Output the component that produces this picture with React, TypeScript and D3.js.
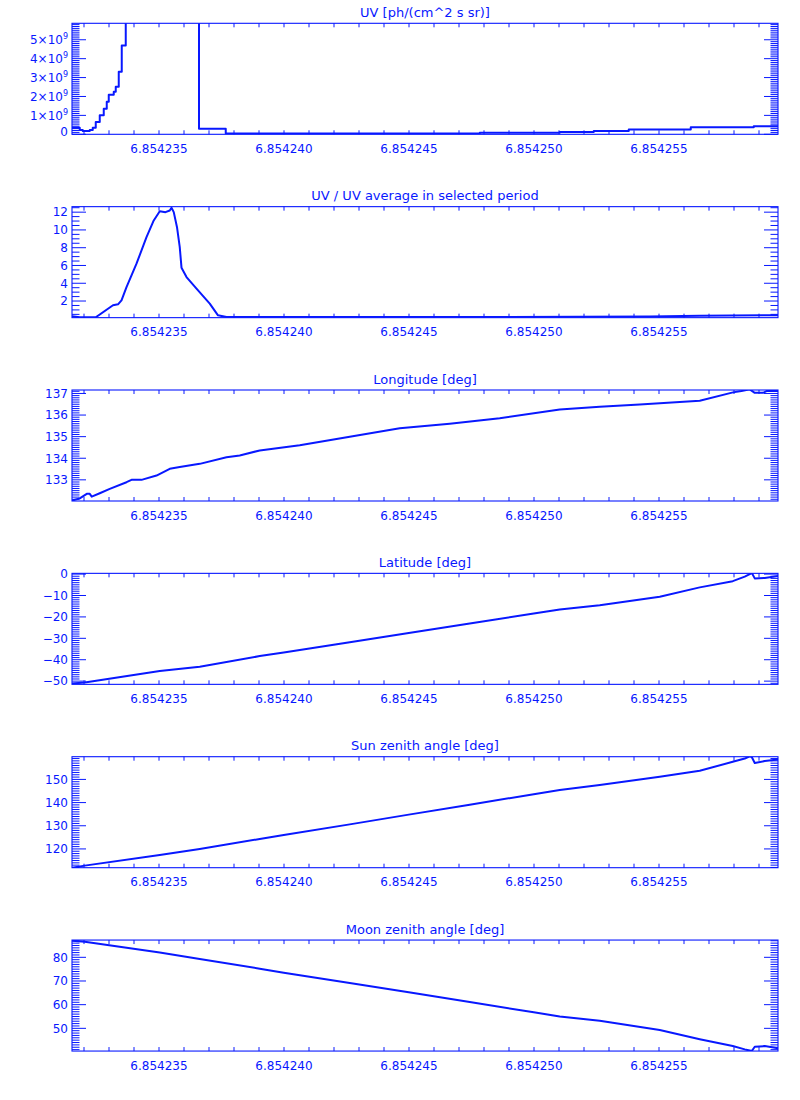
import * as d3 from "d3";

// IDL-style stack of six time series panels
const COLOR = "#0818ff";
const X0 = 72, X1 = 778;
const TOP0 = 23.3, STEP = 183.35, H = 111;
const FONT = "DejaVu Sans, sans-serif";

const xDomain = [6.85423152, 6.85425976];

// UV [ph/(cm^2 s sr)] (histogram style)
const uvTime = [6.85423152, 6.85423183, 6.85423195, 6.85423223, 6.85423235, 6.85423247, 6.85423263, 6.85423279, 6.85423291, 6.85423299, 6.85423319, 6.85423327, 6.85423339, 6.85423351, 6.85423367, 6.8542366, 6.85423767, 6.85424783, 6.85425103, 6.85425239, 6.85425379, 6.85425627, 6.85425879, 6.85425976];
const uvValue = [0.34e9, 0.23e9, 0.18e9, 0.23e9, 0.34e9, 0.65e9, 1.01e9, 1.35e9, 1.72e9, 2.09e9, 2.25e9, 2.52e9, 3.31e9, 4.7e9, 9.0e9, 0.3e9, 0.037e9, 0.08e9, 0.12e9, 0.18e9, 0.25e9, 0.37e9, 0.43e9, 0.43e9];

// UV / UV average in selected period
const ratioTime = [6.85423152, 6.85423183, 6.85423247, 6.85423316, 6.85423336, 6.8542335, 6.8542337, 6.8542341, 6.8542345, 6.85423479, 6.85423503, 6.85423526, 6.85423543, 6.8542355, 6.85423559, 6.85423572, 6.85423583, 6.8542359, 6.8542361, 6.8542365, 6.85423703, 6.85423736, 6.8542377, 6.85424903, 6.85425463, 6.85425663, 6.85425976];
const ratioValue = [0.28, 0.17, 0.17, 1.52, 1.63, 2.08, 3.57, 6.2, 9.19, 11.07, 12.11, 12.0, 12.19, 12.49, 12.0, 10.31, 8.07, 5.75, 4.7, 3.39, 1.71, 0.39, 0.2, 0.2, 0.25, 0.35, 0.4];

// Longitude [deg]
const lonTime = [6.85423152, 6.85423183, 6.85423211, 6.85423223, 6.85423231, 6.85423263, 6.85423303, 6.8542337, 6.8542339, 6.8542343, 6.8542349, 6.85423543, 6.85423583, 6.85423663, 6.8542377, 6.85423823, 6.85423903, 6.85424063, 6.85424263, 6.85424463, 6.85424663, 6.85424863, 6.85425103, 6.85425263, 6.85425423, 6.85425663, 6.85425796, 6.8542583, 6.85425863, 6.85425883, 6.85425916, 6.8542593, 6.85425976];
const lonValue = [132.04, 132.14, 132.35, 132.35, 132.22, 132.38, 132.58, 132.89, 133.0, 133.0, 133.2, 133.51, 133.59, 133.74, 134.05, 134.13, 134.36, 134.6, 135.0, 135.39, 135.6, 135.85, 136.26, 136.38, 136.49, 136.66, 137.05, 137.11, 137.19, 137.03, 137.03, 137.11, 137.11];

// shared sampling for latitude / sun / moon
const geoTime = [6.85423152, 6.85423203, 6.85423503, 6.85423663, 6.85423903, 6.85423999, 6.85424263, 6.85424499, 6.85424743, 6.85424999, 6.85425103, 6.85425263, 6.85425503, 6.85425663, 6.85425795, 6.85425843, 6.85425863, 6.85425871, 6.85425883, 6.85425923, 6.85425976];
const latValue = [-51.1, -50.6, -45.3, -43.3, -38.3, -36.6, -31.8, -27.5, -23.1, -18.4, -16.5, -14.5, -10.6, -6.2, -3.3, -1.2, 0.0, 0.6, -2.0, -1.8, -0.9];
const sunValue = [111.9, 112.8, 117.4, 120.0, 124.3, 126.0, 130.6, 134.8, 139.1, 143.6, 145.4, 147.6, 151.1, 153.7, 157.6, 159.0, 160.0, 159.7, 157.1, 157.9, 158.6];
const moonValue = [87.0, 86.6, 82.0, 79.3, 75.2, 73.5, 69.2, 65.2, 61.1, 56.8, 55.0, 53.2, 49.3, 45.4, 42.5, 41.1, 40.6, 40.4, 42.2, 42.5, 41.6];

const titles = ["UV [ph/(cm^2 s sr)]", "UV / UV average in selected period", "Longitude [deg]", "Latitude [deg]", "Sun zenith angle [deg]", "Moon zenith angle [deg]"];

type PanelProps = {
  index: number;
  title: string;
  times: number[];
  values: number[];
  yDomain: number[];
  major: number;
  minor: number;
  sci?: boolean;
  step?: boolean;
};

const Panel = ({ index, title, times, values, yDomain, major, minor, sci, step }: PanelProps) => {
  const top = TOP0 + index * STEP;
  const bottom = top + H;
  const x = d3.scaleLinear().domain(xDomain).range([X0, X1]);
  const y = d3.scaleLinear().domain(yDomain).range([bottom, top]);

  const line = d3.line<number>()
    .x((d, i) => x(times[i]))
    .y((d) => y(d))
    .curve(step ? d3.curveStepAfter : d3.curveLinear);

  // x ticks every 1e-6, labelled every 5e-6
  const k0 = Math.ceil(xDomain[0] * 1e6), k1 = Math.floor(xDomain[1] * 1e6);
  const xTicks = d3.range(k0, k1 + 1).map(k => ({ v: k / 1e6, major: k % 5 === 0 }));

  const n = Math.round(major / minor);
  const i0 = Math.ceil(yDomain[0] / minor - 1e-9), i1 = Math.floor(yDomain[1] / minor + 1e-9);
  const yTicks = d3.range(i0, i1 + 1).map(i => ({ v: i * minor, major: i % n === 0 }));

  const fmtX = d3.format(".6f");
  const clipId = "clip" + index;

  return (
    <g>
      <defs>
        <clipPath id={clipId}>
          <rect x={X0} y={top} width={X1 - X0} height={H} />
        </clipPath>
      </defs>
      <text x={(X0 + X1) / 2} y={top - 6.5} textAnchor="middle" fontSize={13} fill={COLOR}>{title}</text>
      <rect x={X0} y={top} width={X1 - X0} height={H} fill="none" stroke={COLOR} strokeWidth={1.1} />
      {xTicks.map((t, i) => (
        <g key={"x" + i}>
          <line x1={x(t.v)} x2={x(t.v)} y1={bottom} y2={bottom - 4} stroke={COLOR} />
          <line x1={x(t.v)} x2={x(t.v)} y1={top} y2={top + 4} stroke={COLOR} />
          {t.major && (
            <text x={x(t.v)} y={bottom + 18.5} textAnchor="middle" fontSize={12} fill={COLOR}>{fmtX(t.v)}</text>
          )}
        </g>
      ))}
      {yTicks.map((t, i) => {
        const len = t.major ? 14 : 7.5;
        const yy = y(t.v);
        return (
          <g key={"y" + i}>
            <line x1={X0} x2={X0 + len} y1={yy} y2={yy} stroke={COLOR} />
            <line x1={X1} x2={X1 - len} y1={yy} y2={yy} stroke={COLOR} />
            {t.major && (
              <text x={68} y={sci && t.v === 0 ? yy - 3 : yy} dy="0.36em" textAnchor="end" fontSize={12} fill={COLOR}>
                {sci && t.v !== 0 ? (
                  <>
                    {`${Math.round(t.v / 1e9)}×10`}
                    <tspan fontSize={8} dy={-5}>9</tspan>
                  </>
                ) : d3.format("d")(Math.round(t.v))}
              </text>
            )}
          </g>
        );
      })}
      <path d={line(values) ?? ""} fill="none" stroke={COLOR} strokeWidth={2} clipPath={`url(#${clipId})`} strokeLinejoin="round" />
    </g>
  );
};

export default function App() {
  return (
    <svg width={800} height={1100} style={{ position: "absolute", left: 0, top: 0, background: "white", fontFamily: FONT }}>
      <rect width={800} height={1100} fill="white" />
      <Panel index={0} title={titles[0]} times={uvTime} values={uvValue} yDomain={[0, 5.87e9]} major={1e9} minor={1e8} sci step />
      <Panel index={1} title={titles[1]} times={ratioTime} values={ratioValue} yDomain={[0.13, 12.62]} major={2} minor={0.5} />
      <Panel index={2} title={titles[2]} times={lonTime} values={lonValue} yDomain={[132.02, 137.16]} major={1} minor={0.1} />
      <Panel index={3} title={titles[3]} times={geoTime} values={latValue} yDomain={[-51.5, 0.35]} major={10} minor={1} />
      <Panel index={4} title={titles[4]} times={geoTime} values={sunValue} yDomain={[111.9, 159.8]} major={10} minor={1} />
      <Panel index={5} title={titles[5]} times={geoTime} values={moonValue} yDomain={[40.4, 87.3]} major={10} minor={1} />
    </svg>
  );
}
